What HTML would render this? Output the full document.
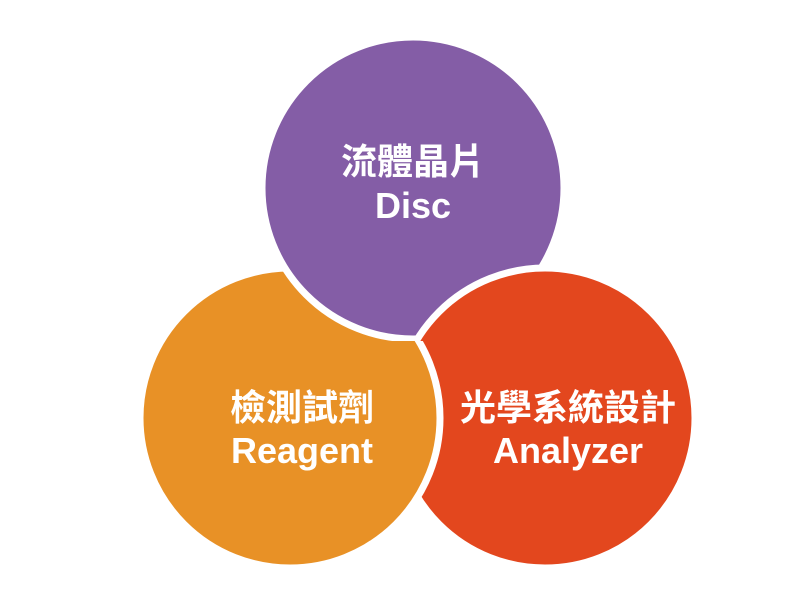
<!DOCTYPE html>
<html><head><meta charset="utf-8"><style>
body{margin:0;width:800px;height:600px;background:#fff;overflow:hidden}
svg text{font-family:"Liberation Sans","Noto Sans CJK TC",sans-serif;font-weight:bold;fill:#fff;text-anchor:middle}
</style></head><body>
<svg width="800" height="600" viewBox="0 0 800 600">
<defs><clipPath id="c"><rect x="370" y="341" width="230" height="265"/></clipPath></defs>
<circle cx="290" cy="418" r="150" fill="#e89126" stroke="#fff" stroke-width="7"/>
<circle cx="413" cy="188" r="151" fill="#845da6" stroke="#fff" stroke-width="7"/>
<circle cx="545" cy="418" r="150" fill="#e3471e" stroke="#fff" stroke-width="7"/>
<circle cx="290" cy="418" r="150" fill="#e89126" stroke="#fff" stroke-width="7" clip-path="url(#c)"/>
<text x="413" y="174" font-size="36">流體晶片</text>
<text x="413" y="218" font-size="36">Disc</text>
<text x="302" y="420" font-size="36">檢測試劑</text>
<text x="302" y="463" font-size="36">Reagent</text>
<text x="568" y="420" font-size="36">光學系統設計</text>
<text x="568" y="463" font-size="36">Analyzer</text>
</svg>
</body></html>
